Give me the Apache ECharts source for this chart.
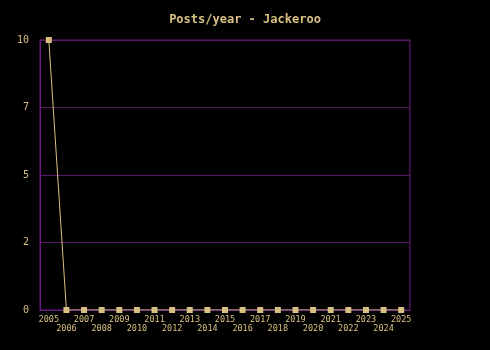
<!DOCTYPE html>
<html><head><meta charset="utf-8">
<script src="https://cdn.jsdelivr.net/npm/echarts@6/dist/echarts.min.js"></script>
<style>html,body{margin:0;padding:0;background:#000}#c{width:490px;height:350px}</style>
</head><body><div id="c"></div>
<script>
const titleText = 'Posts/year - Jackeroo';
const years = ['2005','2006','2007','2008','2009','2010','2011','2012','2013','2014','2015','2016','2017','2018','2019','2020','2021','2022','2023','2024','2025'];
const posts = [10,0,0,0,0,0,0,0,0,0,0,0,0,0,0,0,0,0,0,0,0];
const yTicks = [0,2.5,5,7.5,10];

const fg = '#d8c080';
const chart = echarts.init(document.getElementById('c'));
chart.setOption({
  backgroundColor:'#000',
  animation:false,
  title:{text:titleText,left:'center',top:9,textStyle:{color:fg,fontFamily:'DejaVu Sans Mono',fontSize:12,fontWeight:'bold'}},
  grid:{left:40,right:80,top:40,bottom:40},
  xAxis:{type:'category',data:years,boundaryGap:true,
    axisLine:{lineStyle:{color:'#6a1a80',width:1}},axisTick:{show:false},
    splitLine:{show:false},
    axisLabel:{interval:0,color:fg,fontFamily:'DejaVu Sans Mono',fontSize:8.5,margin:5,lineHeight:9,
      formatter:(v,i)=> (i%2===1 ? '\n'+v : v)}},
  yAxis:{type:'value',min:yTicks[0],max:yTicks[yTicks.length-1],interval:2.5,
    axisLine:{show:true,lineStyle:{color:'#6a1a80'}},axisTick:{show:false},
    splitLine:{lineStyle:{color:'#561a66',width:1}},
    axisLabel:{color:fg,fontFamily:'DejaVu Sans Mono',fontSize:10,margin:11,
      formatter:v=>String(Math.floor(v))}},
  series:[{type:'line',data:posts,symbol:'rect',symbolSize:6,showAllSymbol:true,
    lineStyle:{color:fg,width:1},itemStyle:{color:fg}}],
  graphic:[{type:'rect',shape:{x:40,y:40,width:370,height:270},style:{fill:'none',stroke:'#6a1a80',lineWidth:1},z:0}]
});
</script></body></html>
